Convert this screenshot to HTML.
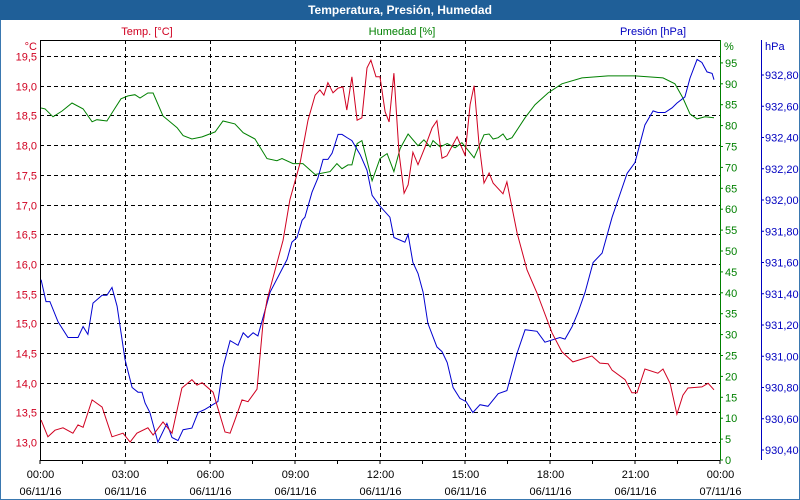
<!DOCTYPE html>
<html><head><meta charset="utf-8"><style>
body{margin:0;background:#fff;}
svg{display:block;font-family:"Liberation Sans",sans-serif;font-size:11px;}
</style></head><body>
<svg id="chart" width="800" height="500" viewBox="0 0 800 500" xmlns="http://www.w3.org/2000/svg">
<rect x="0" y="0" width="800" height="500" fill="#fff" stroke="#3a78b0" stroke-width="2"/>
<rect x="0" y="0" width="800" height="20" fill="#1f5f98"/>
<text x="400" y="14" text-anchor="middle" fill="#fff" font-weight="bold" font-size="12">Temperatura, Presión, Humedad</text>
<text x="147" y="35" text-anchor="middle" fill="#d00020">Temp. [°C]</text>
<text x="402" y="35" text-anchor="middle" fill="#008000">Humedad [%]</text>
<text x="653" y="35" text-anchor="middle" fill="#0000c0">Presión [hPa]</text>
<text x="37" y="50" text-anchor="end" fill="#d00020">°C</text>
<text x="724" y="50" fill="#008000">%</text>
<text x="765" y="50" fill="#0000c0">hPa</text>
<g id="grid"></g>
<g id="axes"></g>
<g id="series"></g>
</svg>
<script>
const tempTimes=[0.04,0.28,0.53,0.81,1.16,1.34,1.52,1.84,2.19,2.54,2.93,3.18,3.42,3.81,3.99,4.34,4.66,5.01,5.36,5.54,5.72,6.11,6.53,6.71,6.88,7.13,7.34,7.66,7.87,8.01,8.58,8.82,9.18,9.46,9.71,9.88,10.02,10.16,10.34,10.52,10.69,10.83,11.01,11.19,11.36,11.54,11.68,11.86,12.0,12.18,12.32,12.49,12.67,12.85,12.99,13.16,13.34,13.59,13.84,14.01,14.19,14.36,14.72,15.0,15.18,15.32,15.49,15.67,15.85,15.99,16.34,16.48,16.84,17.19,17.54,18.07,18.42,18.81,19.48,19.76,20.05,20.19,20.65,20.89,21.07,21.35,21.81,21.99,22.24,22.48,22.69,22.87,23.36,23.58,23.79];
const tempValues=[13.37,13.09,13.2,13.24,13.15,13.29,13.25,13.71,13.59,13.09,13.15,13.0,13.15,13.24,13.12,13.34,13.15,13.91,14.05,13.96,14.0,13.84,13.17,13.15,13.37,13.71,13.68,13.89,15.0,15.39,16.4,17.08,17.7,18.42,18.84,18.93,18.84,19.05,18.88,18.96,18.98,18.59,19.15,18.42,18.46,19.3,19.43,19.15,19.15,18.56,18.39,19.21,17.87,17.19,17.33,17.88,17.67,17.97,18.29,18.41,17.78,17.82,18.14,17.83,18.68,19.0,18.04,17.36,17.53,17.36,17.18,17.38,16.52,15.9,15.51,14.84,14.52,14.35,14.45,14.33,14.32,14.21,14.05,13.83,13.83,14.23,14.16,14.23,13.99,13.47,13.79,13.91,13.93,13.99,13.88];
const humTimes=[0.04,0.18,0.46,0.78,1.13,1.52,1.84,2.01,2.36,2.65,2.86,3.11,3.35,3.53,3.81,3.99,4.34,4.84,5.05,5.36,5.72,6.18,6.46,6.88,7.17,7.59,8.01,8.36,8.54,8.93,9.28,9.71,10.24,10.48,10.66,10.87,11.01,11.19,11.36,11.72,12.0,12.25,12.49,12.71,12.99,13.34,13.55,13.77,13.87,14.12,14.37,14.65,14.89,15.32,15.67,15.85,15.99,16.17,16.34,16.48,16.66,17.12,17.47,17.93,18.42,19.13,20.05,21.0,21.99,22.41,22.69,22.94,23.19,23.47,23.79];
const humValues=[84.2,84.0,82.1,83.5,85.4,84.0,80.9,81.4,81.1,84.2,86.4,87.1,87.4,86.6,87.8,87.8,82.3,79.5,77.6,76.8,77.3,78.5,81.1,80.4,78.3,76.8,72.1,71.6,72.1,70.9,70.9,68.3,69.0,70.9,69.7,70.6,70.6,75.7,76.4,66.8,72.1,73.3,69.0,74.5,78.0,75.2,76.6,74.9,76.4,74.9,75.7,74.7,75.9,72.3,77.8,78.0,76.8,77.1,78.0,76.6,77.1,81.9,85.0,87.8,90.0,91.4,91.9,91.9,91.4,90.0,86.6,82.8,81.6,82.1,81.9];
const presTimes=[0.04,0.21,0.35,0.64,0.99,1.34,1.52,1.69,1.87,2.19,2.36,2.54,2.72,3.0,3.25,3.46,3.6,3.71,3.88,4.16,4.48,4.66,4.87,5.05,5.36,5.58,5.82,6.28,6.46,6.71,6.99,7.17,7.34,7.52,7.69,8.12,8.72,8.89,9.07,9.25,9.35,9.6,9.81,9.99,10.16,10.31,10.52,10.66,10.83,11.01,11.3,11.54,11.72,12.0,12.35,12.49,12.88,12.99,13.16,13.34,13.52,13.69,14.01,14.19,14.37,14.58,14.82,15.04,15.28,15.53,15.81,16.17,16.48,16.84,17.12,17.54,17.82,18.35,18.53,18.78,18.99,19.24,19.52,19.84,20.19,20.4,20.72,21.0,21.35,21.64,21.81,22.06,22.31,22.48,22.76,22.94,23.19,23.36,23.54,23.72,23.79];
const presValues=[931.49,931.35,931.35,931.22,931.12,931.12,931.19,931.14,931.34,931.39,931.39,931.44,931.32,930.98,930.80,930.77,930.77,930.70,930.64,930.45,930.57,930.48,930.46,930.53,930.54,930.64,930.66,930.71,930.93,931.10,931.07,931.15,931.12,931.15,931.13,931.41,931.62,931.73,931.76,931.87,931.89,932.05,932.14,932.26,932.26,932.30,932.42,932.42,932.40,932.38,932.29,932.19,932.03,931.96,931.89,931.76,931.73,931.78,931.60,931.53,931.41,931.21,931.06,931.03,930.96,930.80,930.73,930.71,930.64,930.69,930.68,930.76,930.78,931.02,931.17,931.16,931.09,931.12,931.11,931.19,931.28,931.41,931.60,931.66,931.89,932.0,932.17,932.24,932.48,932.57,932.56,932.56,932.59,932.62,932.66,932.78,932.90,932.88,932.82,932.81,932.77];
const tempTicks=[19.5,19.0,18.5,18.0,17.5,17.0,16.5,16.0,15.5,15.0,14.5,14.0,13.5,13.0];
const humTicks=[0,5,10,15,20,25,30,35,40,45,50,55,60,65,70,75,80,85,90,95];
const presTicks=[930.4,930.6,930.8,931.0,931.2,931.4,931.6,931.8,932.0,932.2,932.4,932.6,932.8];
const timeTicks=[0,3,6,9,12,15,18,21,24];
const timeLabels=["00:00","03:00","06:00","09:00","12:00","15:00","18:00","21:00","00:00"];
const dateLabels=["06/11/16","06/11/16","06/11/16","06/11/16","06/11/16","06/11/16","06/11/16","06/11/16","07/11/16"];

const X0=40,X1=720,Y0=40,Y1=460;
const xs=h=>X0+(X1-X0)*h/24;
const yT=t=>56+(19.5-t)*59.4;
const yH=v=>460-4.18*v;
const yP=p=>450-(p-930.4)*156.25;
const NS='http://www.w3.org/2000/svg';
function mk(tag,attrs,parent){const e=document.createElementNS(NS,tag);for(const k in attrs)e.setAttribute(k,attrs[k]);parent.appendChild(e);return e;}
const grid=document.getElementById('grid'),axes=document.getElementById('axes'),series=document.getElementById('series');
const fmt=(v,d)=>v.toFixed(d).replace('.',',');

tempTicks.forEach(t=>{
  const y=Math.round(yT(t))+0.5;
  const l=mk('line',{x1:X0,x2:X1,y1:y,y2:y,stroke:'#000','stroke-dasharray':'4,3','stroke-width':1},grid);
  
  
  const tx=mk('text',{x:37,y:y+4,'text-anchor':'end',fill:'#d00020'},axes);
  tx.textContent=fmt(t,1);
  
  
});
timeTicks.forEach((h,i)=>{
  const x=Math.round(xs(h))+0.5;
  if(i>0&&i<timeTicks.length-1){
    const l=mk('line',{x1:x,x2:x,y1:Y0,y2:Y1,stroke:'#000','stroke-dasharray':'4,3','stroke-width':1},grid);
    
    
  }
  const t1=mk('text',{x:x,y:478,'text-anchor':'middle',fill:'#000'},axes);
  t1.textContent=timeLabels[i];
  
  
  const t2=mk('text',{x:x,y:495,'text-anchor':'middle',fill:'#000'},axes);
  t2.textContent=dateLabels[i];
  
  
});
for(let h=0;h<=24;h+=1.5){
  const tk=mk('line',{x1:xs(h),x2:xs(h),y1:Y1,y2:Y1+4,stroke:'#000'},axes);
  
  
}
humTicks.forEach(v=>{
  const y=yH(v);
  const tk=mk('line',{x1:X1,x2:X1+3,y1:y,y2:y,stroke:'#008000'},axes);
  
  
  const tx=mk('text',{x:725,y:y+4,fill:'#008000'},axes);
  tx.textContent=String(v);
  
  
});
presTicks.forEach(p=>{
  const y=yP(p);
  const tk=mk('line',{x1:761,x2:764,y1:y,y2:y,stroke:'#0000c0'},axes);
  
  
  const tx=mk('text',{x:765,y:y+4,fill:'#0000c0'},axes);
  tx.textContent=fmt(p,2);
  
  
});
const fr=mk('path',{d:`M${X0+0.5},${Y1+0.5}V${Y0+0.5}H${X1}M${X0},${Y1+0.5}H${X1}`,stroke:'#000',fill:'none'},axes);


const ga=mk('line',{x1:X1+0.5,x2:X1+0.5,y1:Y0,y2:Y1,stroke:'#008000'},axes);


const pa=mk('line',{x1:761.5,x2:761.5,y1:Y0,y2:Y1,stroke:'#0000c0'},axes);



function line(times,vals,fy){
  return times.map((t,i)=>`${i?'L':'M'}${xs(t).toFixed(1)},${fy(vals[i]).toFixed(1)}`).join('');
}
const hl=mk('path',{d:line(humTimes,humValues,yH),stroke:'#008000',fill:'none','stroke-width':1},series);


const pl=mk('path',{d:line(presTimes,presValues,yP),stroke:'#0000d0',fill:'none','stroke-width':1},series);


const tl=mk('path',{d:line(tempTimes,tempValues,yT),stroke:'#d00020',fill:'none','stroke-width':1},series);


</script>
</body></html>
